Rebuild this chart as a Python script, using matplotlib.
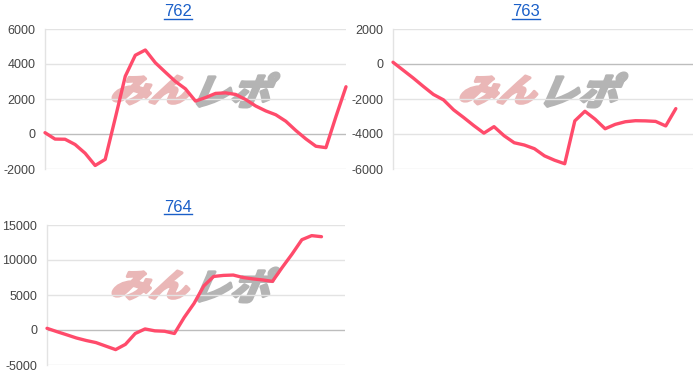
import matplotlib
matplotlib.use("Agg")
import matplotlib.pyplot as plt
from matplotlib.lines import Line2D
from matplotlib.patches import PathPatch
from matplotlib.textpath import TextPath
from matplotlib.font_manager import FontProperties
from matplotlib.transforms import Affine2D, IdentityTransform
import numpy as np

W, H = 700, 388

# series, one value per step
names = ["762", "763", "764"]

vals_762 = [75, -290, -300, -600, -1100, -1800, -1450, 900, 3300, 4500,
            4800, 4070, 3530, 3000, 2580, 1880, 2080, 2320, 2350, 2260,
            1970, 1600, 1320, 1100, 730, 200, -280, -700, -780, 1000, 2700]

vals_763 = [100, -350, -800, -1280, -1740, -2050, -2620, -3060, -3520, -3950,
            -3580, -4100, -4500, -4630, -4840, -5250, -5500, -5700, -3250, -2700,
            -3150, -3700, -3450, -3300, -3240, -3250, -3280, -3540, -2550]

vals_764 = [240, -230, -680, -1140, -1500, -1800, -2300, -2800, -2050, -500,
            150, -120, -180, -500, 1800, 3800, 6300, 7650, 7800, 7850,
            7500, 7300, 7150, 6950, 8950, 10850, 12900, 13480, 13330]

series = [vals_762, vals_763, vals_764]
yticks = [[-2000, 0, 2000, 4000, 6000],
          [-6000, -4000, -2000, 0, 2000],
          [-5000, 0, 5000, 10000, 15000]]
xmax = [30, 29.7, 30.4]

# pixel boxes of the plot areas (left, top, right, bottom)
boxes = [(45, 29, 346, 169), (393, 29, 693, 169), (47, 225, 345, 365)]
title_pos = [(178, 12), (526, 12), (178, 207)]

LINE = "#ff4b6b"
LINK = "#1a5fc8"

plt.rcParams["font.family"] = ["Liberation Sans", "DejaVu Sans"]
plt.rcParams["axes.unicode_minus"] = False

fig = plt.figure(figsize=(W / 100, H / 100), dpi=100)

jp = FontProperties(family="Noto Sans CJK JP", weight="bold")


def watermark(ax, text, box, color):
    # slanted logo text fitted into a pixel box
    x0, y0, x1, y1 = box
    p = TextPath((0, 0), text, size=50, prop=jp)
    p = p.transformed(Affine2D().skew_deg(22, 0))
    ext = p.get_extents()
    sx = (x1 - x0) / ext.width
    sy = (y1 - y0) / ext.height
    t = Affine2D().translate(-ext.x0, -ext.y0).scale(sx, sy).translate(x0, H - y1)
    p = p.transformed(t)
    ax.add_patch(PathPatch(p, facecolor=color, edgecolor=color, lw=2.2,
                           joinstyle="round", transform=IdentityTransform(),
                           clip_on=False, zorder=0.8))


for i, vals in enumerate(series):
    l, t, r, b = boxes[i]
    ax = fig.add_axes([l / W, 1 - b / H, (r - l) / W, (b - t) / H])
    x = np.arange(len(vals))
    ax.plot(x, vals, color=LINE, lw=2.4, solid_joinstyle="round",
            solid_capstyle="round", zorder=3, clip_on=False)
    ax.set_xlim(0, xmax[i])
    ax.set_ylim(yticks[i][0], yticks[i][-1])
    ax.set_yticks(yticks[i])
    ax.set_xticks([])
    for v in yticks[i]:
        ax.axhline(v, color="#bdbdbd" if v == 0 else "#e3e3e3",
                   lw=1.0, zorder=1)
    for s in ["top", "right", "bottom"]:
        ax.spines[s].set_visible(False)
    ax.spines["left"].set_color("#e3e3e3")
    ax.spines["left"].set_linewidth(1.0)
    ax.tick_params(axis="y", length=0, pad=7, labelsize=9, labelcolor="#444444")
    ax.patch.set_alpha(0)

    # logo watermark
    dx = 0 if i != 1 else 348
    dy = 0 if i != 2 else 195
    watermark(ax, "みん", (113 + dx, 76 + dy, 189 + dx, 104 + dy), "#eab7b7")
    watermark(ax, "レポ", (197 + dx, 73 + dy, 279 + dx, 107 + dy), "#b4b4b4")

# titles as underlined links
renderer = fig.canvas.get_renderer()
for i, name in enumerate(names):
    cx, cy = title_pos[i]
    txt = fig.text(cx / W, 1 - cy / H, name, ha="center", va="center",
                   fontsize=12, color=LINK)
    bb = txt.get_window_extent(renderer)
    fig.add_artist(Line2D([bb.x0 / W, bb.x1 / W],
                          [(bb.y0 + 0.5) / H, (bb.y0 + 0.5) / H],
                          color=LINK, lw=1.0, transform=fig.transFigure))

fig.savefig("out.png", dpi=100)
